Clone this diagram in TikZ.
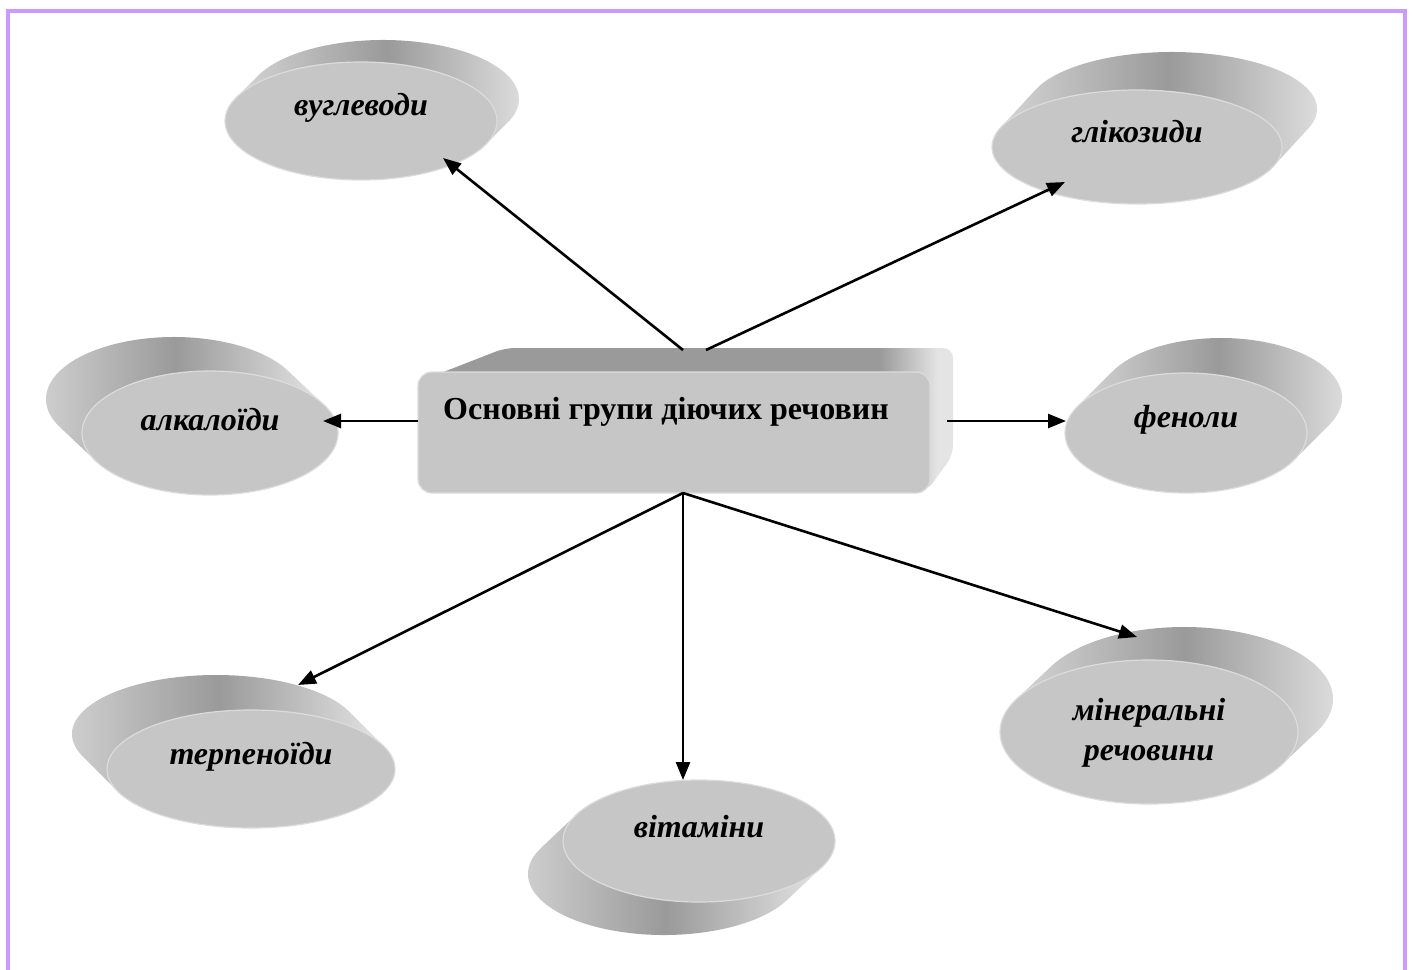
\documentclass[tikz,border=0pt]{standalone}
\usepackage{fontspec}
\setmainfont{Liberation Serif}
\usetikzlibrary{arrows.meta,shapes.geometric}

\definecolor{framelilac}{HTML}{CC99FF}
\definecolor{face}{HTML}{C6C6C6}
\definecolor{rim}{HTML}{DCDCDC}
\definecolor{sidedark}{HTML}{9A9A9A}
\definecolor{sidelight}{HTML}{D4D4D4}
\definecolor{sideend}{HTML}{E4E4E4}

% top and right faces of the central block
\pgfdeclarehorizontalshading{blockwall}{100bp}{color(0bp)=(sidedark); color(25bp)=(sidedark);
  color(68bp)=(sidedark); color(73.5bp)=(sideend); color(100bp)=(sideend)}

\tikzset{
  wall/.style={left color=sidelight, right color=sideend, middle color=sidedark},
  diskface/.style={ellipse, draw=rim, line width=1.2pt, fill=face, inner sep=0pt},
  lbl/.style={font=\fontsize{32}{40}\selectfont\bfseries\itshape, align=center, inner sep=0pt},
  title/.style={font=\fontsize{32}{38}\selectfont\bfseries, inner sep=0pt},
  link/.style={line width=2.6pt, -{Triangle[length=18pt,width=14pt]}},
  frameline/.style={draw=framelilac, line width=4pt},
}

% extruded ellipse: #1 name, #2,#3 centre (y downwards), #4,#5 radii,
% #6,#7 extrusion offset (y downwards), #8 label, #9 label raise
\newcommand\disk[9]{%
  \pgfmathsetmacro\dkDy{-(#7)}%
  \pgfmathsetmacro\dkT{atan2(-(#5)*(#6),(#4)*(\dkDy))}%
  \pgfmathsetmacro\dkX{(#2)+(#4)*cos(\dkT)}%
  \pgfmathsetmacro\dkY{-(#3)+(#5)*sin(\dkT)}%
  \pgfmathsetmacro\dkU{(#2)-(#4)*cos(\dkT)}%
  \pgfmathsetmacro\dkV{-(#3)-(#5)*sin(\dkT)}%
  \pgfmathsetmacro\dkE{\dkT+180}%
  \path[wall] (\dkX,\dkY) -- ++(#6,\dkDy)
     arc[start angle=\dkT, end angle=\dkE, x radius=#4, y radius=#5]
     -- (\dkU,\dkV) -- cycle;
  \node[diskface, minimum width=2*#4, minimum height=2*#5] (#1) at (#2,-#3) {};
  \node[lbl] (#1-t) at ([yshift=#9]#1.center) {#8};
}

\begin{document}
\begin{tikzpicture}[x=1pt,y=1pt]
\useasboundingbox (0,0) rectangle (1413,-969);
\fill[white] (0,0) rectangle (1413,-969);

% page frame
\draw[frameline] (8,-975) -- (8,-11) -- (1405,-11) -- (1405,-975);

% groups of substances
\disk{carb}{361}{121}{136}{59}{22}{-22}{вуглеводи}{13}
\disk{glyc}{1137}{147}{145}{57}{35}{-38}{глікозиди}{15}
\disk{alk}{210}{433}{128}{62}{-36}{-34}{алкалоїди}{13}
\disk{phen}{1186}{433}{121}{60}{35}{-35}{феноли}{13}
\disk{terp}{251}{769}{144}{59}{-35}{-35}{терпеноїди}{12}
\disk{vit}{699}{841}{136}{61}{-35}{33}{вітаміни}{14}
\disk{min}{1149}{732}{149}{72}{35}{-33}{мінеральні\\речовини}{-1}

% central block
\path[shading=blockwall, rounded corners=10pt]
  (428,-378) -- (505,-348) -- (953,-348) -- (953,-455) -- (926,-492) -- cycle;
\node[draw=rim, line width=1.2pt, fill=face, rounded corners=14pt,
      minimum width=512pt, minimum height=121pt, inner sep=0pt] (core) at (674,-432.5) {};
\node[title] (core-t) at (666,-412) {Основні групи діючих речовин};

% connector ends
\coordinate (oTopL) at (683,-350);
\coordinate (oTopR) at (706,-350);
\coordinate (oLeft) at (418,-421);
\coordinate (oRight) at (947,-421);
\coordinate (oBot) at (683,-493);
\coordinate (iCarb) at (443,-158);
\coordinate (iGlyc) at (1065,-182);
\coordinate (iAlk) at (323,-421);
\coordinate (iPhen) at (1066,-421);
\coordinate (iTerp) at (298,-685);
\coordinate (iVit) at (683,-780);
\coordinate (iMin) at (1137,-637);

\draw[link] (oTopL) -- (iCarb);
\draw[link] (oTopR) -- (iGlyc);
\draw[link] (oLeft) -- (iAlk);
\draw[link] (oRight) -- (iPhen);
\draw[link] (oBot) -- (iTerp);
\draw[link] (oBot) -- (iVit);
\draw[link] (oBot) -- (iMin);
\end{tikzpicture}
\end{document}
